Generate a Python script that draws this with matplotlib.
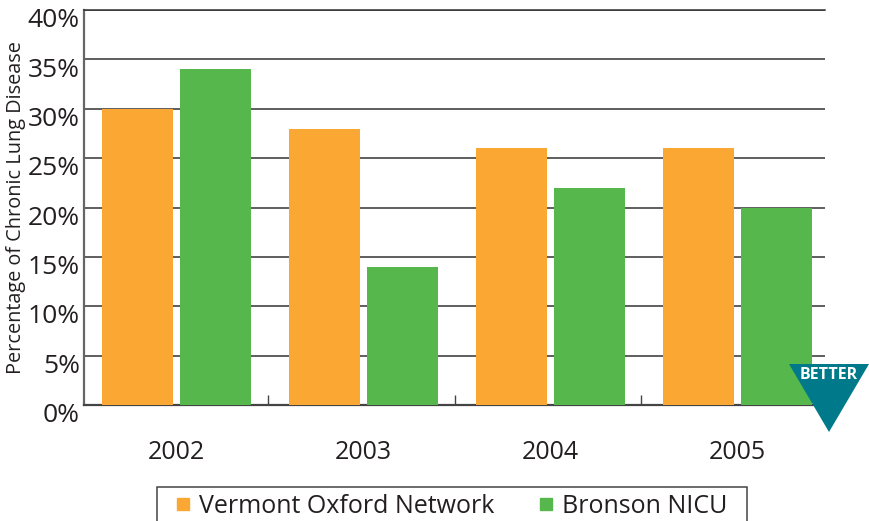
import numpy as np
import matplotlib
matplotlib.use('Agg')
import matplotlib.pyplot as plt
from matplotlib.lines import Line2D
from matplotlib.patches import Polygon, Rectangle
from matplotlib.transforms import ScaledTranslation

years = ['2002', '2003', '2004', '2005']
vermont = [30, 28, 26, 26]
bronson = [34, 14, 22, 20]
y_ticks = [0, 5, 10, 15, 20, 25, 30, 35, 40]
y_labels = ['0%', '5%', '10%', '15%', '20%', '25%', '30%', '35%', '40%']

W, H = 869, 521
ink = '#231f20'
orange = '#fba733'
green = '#56b84c'
plt.rcParams['font.family'] = ['Open Sans', 'DejaVu Sans']

fig = plt.figure(figsize=(W / 100, H / 100), dpi=100)
ax = fig.add_axes([84 / W, (H - 405) / H, 741 / W, 395 / H])

x = np.arange(len(years))
ax.bar(x - 0.2075, vermont, 0.38, color=orange, zorder=3)
ax.bar(x + 0.2075, bronson, 0.38, color=green, zorder=3)

ax.set_xlim(-0.495, 3.468)
ax.set_ylim(0, 40)

ax.set_yticks(y_ticks)
ax.set_yticklabels(y_labels, fontsize=19, color=ink)
ax.tick_params(axis='y', length=0, pad=3)
ax.grid(axis='y', color='#333333', linewidth=1.1, zorder=1)

# labels sit a little below their gridlines in the original
for lab in ax.get_yticklabels():
    lab.set_transform(lab.get_transform() + ScaledTranslation(0, -5.5 / 72, fig.dpi_scale_trans))

ax.set_xticks(x)
ax.set_xticklabels(years, fontsize=18, color=ink)
ax.tick_params(axis='x', which='major', length=0, pad=25)
ax.set_xticks([0.49, 1.49, 2.485], minor=True)
ax.tick_params(axis='x', which='minor', direction='in', length=7, width=1, color='#444444')

ax.set_ylabel('Percentage of Chronic Lung Disease', fontsize=14.3, color=ink)
ax.yaxis.set_label_coords(-58 / 741, 0.5)

ax.spines['top'].set_color('#333333')
ax.spines['top'].set_linewidth(1.1)
ax.spines['right'].set_visible(False)
ax.spines['left'].set_color('#666666')
ax.spines['left'].set_linewidth(1.6)
ax.spines['bottom'].set_color('#444444')
ax.spines['bottom'].set_linewidth(1.6)

# legend box runs off the bottom of the picture
fig.add_artist(Rectangle((157 / W, -10 / H), 590 / W, (H - 487 + 10) / H, transform=fig.transFigure,
                         facecolor='white', edgecolor='#444444', linewidth=1.1))
handles = [Line2D([], [], ls='none', marker='s', ms=8, color=orange, label='Vermont Oxford Network'),
           Line2D([], [], ls='none', marker='s', ms=8, color=green, label='Bronson NICU')]
fig.legend(handles=handles, loc='upper left', bbox_to_anchor=(167 / W, 1 - 494 / H),
           ncols=2, fontsize=18, frameon=False, borderaxespad=0, borderpad=0, handlelength=1.24,
           handletextpad=0.04, columnspacing=1.44, labelcolor=ink)

# BETTER badge
tri = Polygon([[789 / W, 1 - 364 / H], [869 / W, 1 - 364 / H], [829 / W, 1 - 432 / H]],
              closed=True, transform=fig.transFigure, facecolor='#007a8a', edgecolor='none', zorder=5)
fig.add_artist(tri)
fig.text(829 / W, 1 - 375 / H, 'BETTER', color='white', fontsize=11.5, fontweight='bold',
         ha='center', va='center', zorder=6)

fig.savefig('out.png', dpi=100)
